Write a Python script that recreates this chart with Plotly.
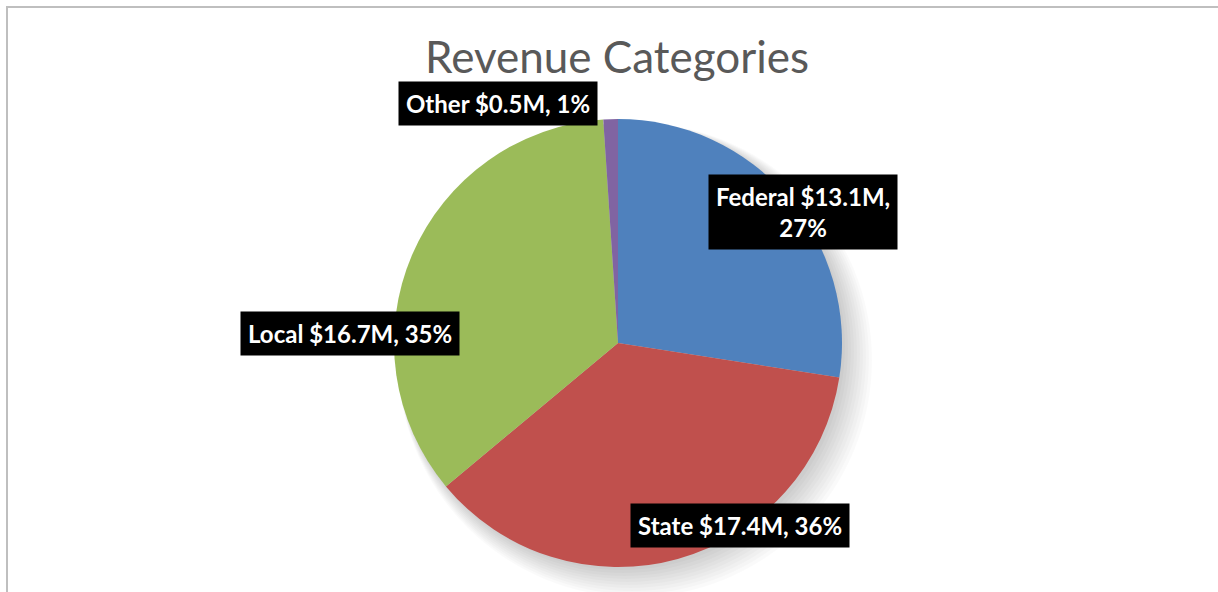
import plotly.graph_objects as go

W, H = 1218, 592

categories = ["Federal", "State", "Local", "Other"]
values = [13.1, 17.4, 16.7, 0.5]
colors = ["#4F81BD", "#C0504D", "#9BBB59", "#8064A2"]
label_text = [
    "Federal $13.1M,<br>27%",
    "State $17.4M, 36%",
    "Local $16.7M, 35%",
    "Other $0.5M, 1%",
]
# label centers in pixels (x, y from top)
label_pos = [(803, 212), (740, 525), (350, 333), (498, 104)]

cx, cy, r = 618, 343, 224

def px(x):
    return x / W

def py(y):
    return 1 - y / H

fig = go.Figure()
fig.add_trace(go.Pie(
    labels=categories,
    values=values,
    sort=False,
    direction="clockwise",
    rotation=0,
    marker=dict(colors=colors, line=dict(width=0)),
    textinfo="none",
    hoverinfo="label+value+percent",
    showlegend=False,
    domain=dict(x=[px(cx - r), px(cx + r)], y=[py(cy + r), py(cy - r)]),
))

shapes = []
# soft shadow behind the pie
for i in range(10):
    g = 3 + i * 3
    shapes.append(dict(
        type="circle", xref="paper", yref="paper", layer="below",
        x0=px(cx - r + 4), x1=px(cx + r + g), y0=py(cy + r + g), y1=py(cy - r + 4),
        line=dict(width=0), fillcolor="rgba(0,0,0,0.018)",
    ))
# chart border
shapes.append(dict(
    type="rect", xref="paper", yref="paper",
    x0=px(7), x1=px(W + 20), y0=py(H + 20), y1=py(7),
    line=dict(color="#bfbfbf", width=2), fillcolor="rgba(0,0,0,0)",
))

annotations = []
for txt, (x, y) in zip(label_text, label_pos):
    annotations.append(dict(
        text=f"<b>{txt}</b>", x=px(x), y=py(y), xref="paper", yref="paper",
        xanchor="center", yanchor="middle", showarrow=False,
        font=dict(family="Lato, Open Sans, sans-serif", size=24, color="white"),
        bgcolor="black", borderpad=7, align="center",
    ))

fig.update_layout(
    width=W, height=H,
    margin=dict(l=0, r=0, t=0, b=0),
    paper_bgcolor="white",
    plot_bgcolor="white",
    title=dict(
        text="Revenue Categories", x=px(617), xanchor="center",
        y=py(58), yanchor="middle",
        font=dict(family="Lato, Open Sans, sans-serif", size=44, color="#595959"),
    ),
    shapes=shapes,
    annotations=annotations,
)

fig.write_html("out.html", config={"displayModeBar": False},
               post_script="document.body.style.margin='0';")
